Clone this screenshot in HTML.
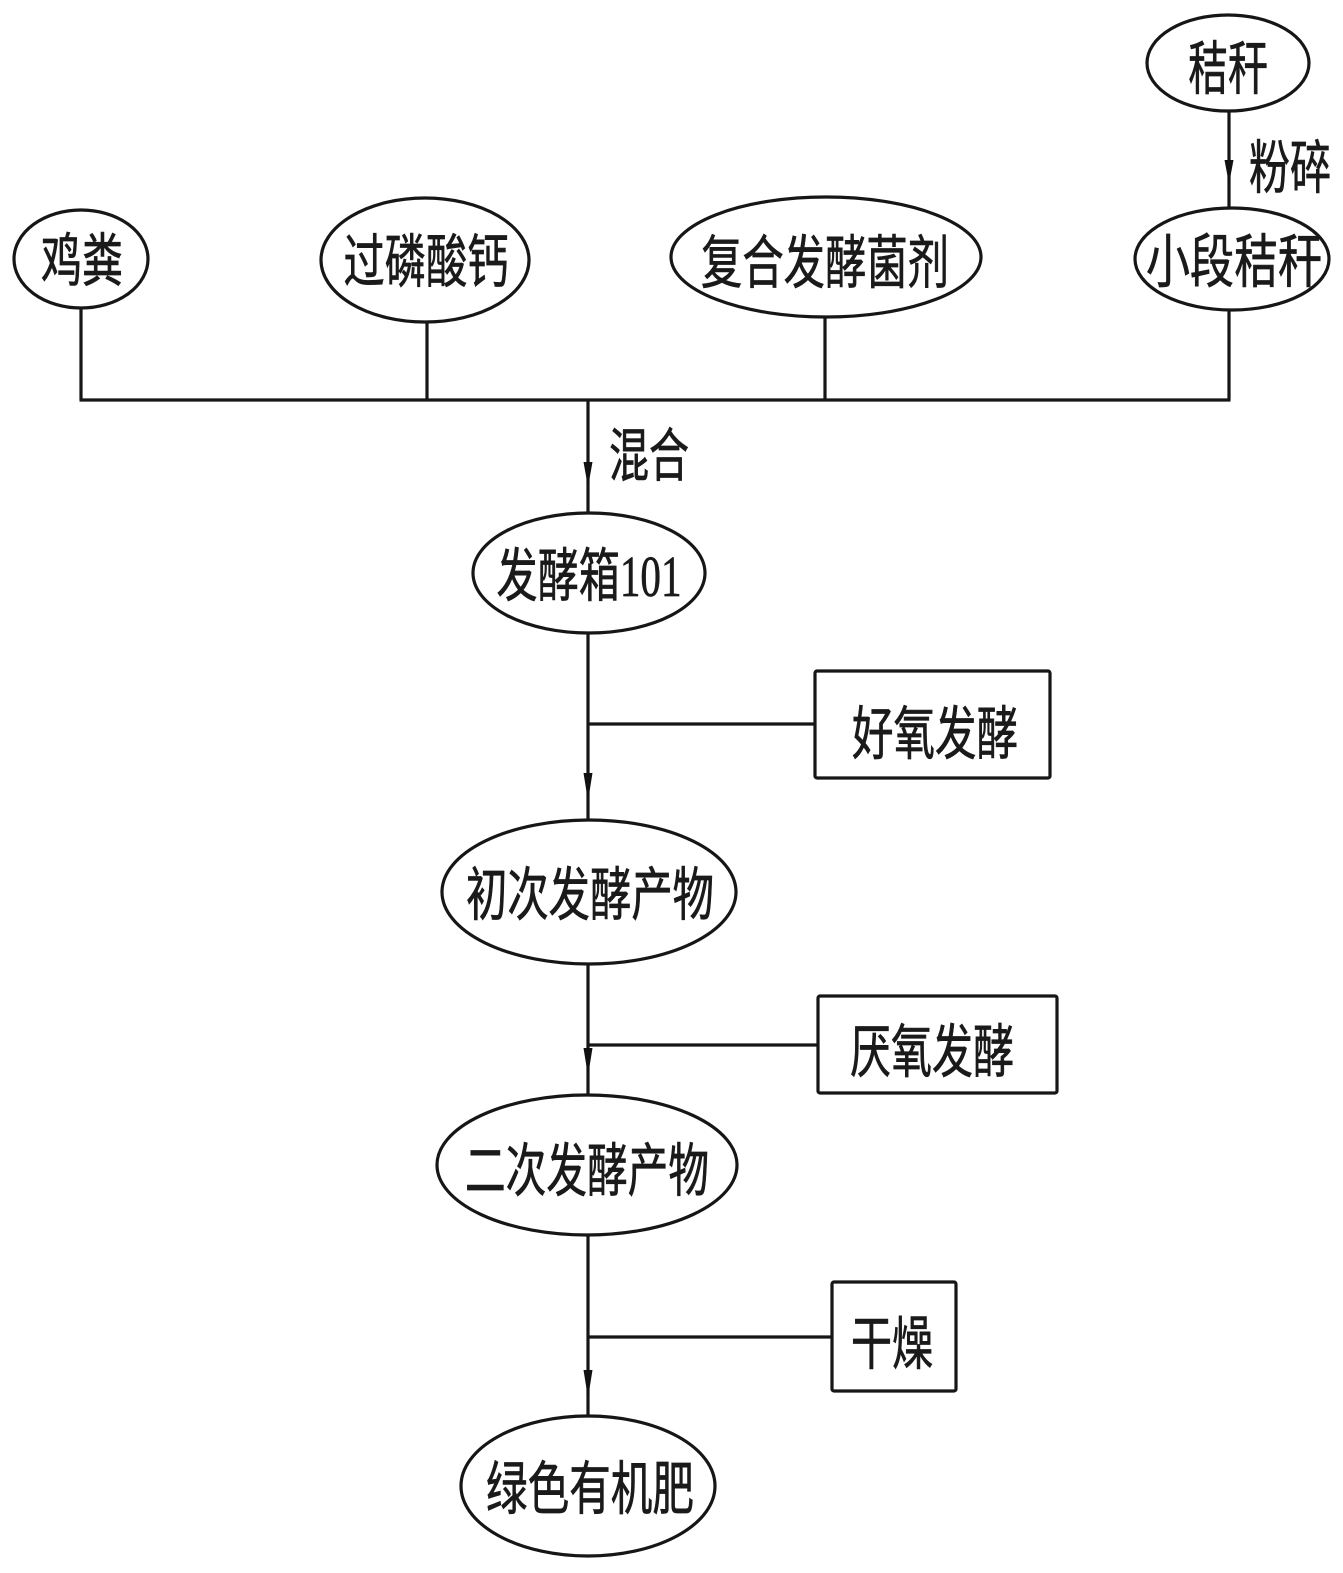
<!DOCTYPE html>
<html>
<head>
<meta charset="utf-8">
<style>
  html, body { margin: 0; padding: 0; background: #ffffff; }
  svg { display: block; }
  text {
    font-family: "Liberation Sans", "Noto Sans CJK SC", "WenQuanYi Zen Hei", sans-serif;
    font-size: 58px;
    fill: #1a1a1a;
    stroke: #1a1a1a;
    stroke-width: 0.7px;
  }
</style>
</head>
<body>
<svg width="1343" height="1573" viewBox="0 0 1343 1573" xmlns="http://www.w3.org/2000/svg">
  <g fill="none" stroke="#161616" stroke-width="3.2">
    <!-- Ellipses -->
    <ellipse cx="1228" cy="63" rx="81" ry="48"/>
    <ellipse cx="1232" cy="259" rx="97" ry="51"/>
    <ellipse cx="81" cy="259" rx="67" ry="49"/>
    <ellipse cx="425" cy="260" rx="104" ry="62"/>
    <ellipse cx="826" cy="257" rx="155" ry="60"/>
    <ellipse cx="589" cy="573" rx="116" ry="60"/>
    <ellipse cx="589" cy="892" rx="147" ry="72"/>
    <ellipse cx="587" cy="1165" rx="150" ry="70"/>
    <ellipse cx="588" cy="1486" rx="127" ry="70"/>

    <!-- Boxes -->
    <rect x="815" y="671" width="235" height="107" rx="2"/>
    <rect x="818" y="996" width="239" height="97" rx="2"/>
    <rect x="832" y="1282" width="124" height="109" rx="2"/>

    <!-- Connectors -->
    <line x1="1229" y1="111" x2="1229" y2="208"/>
    <line x1="81" y1="308" x2="81" y2="400"/>
    <line x1="427" y1="322" x2="427" y2="400"/>
    <line x1="825" y1="317" x2="825" y2="400"/>
    <line x1="1229" y1="310" x2="1229" y2="400"/>
    <line x1="79.5" y1="400" x2="1230.5" y2="400"/>

    <line x1="588" y1="400" x2="588" y2="513"/>
    <line x1="588" y1="633" x2="588" y2="820"/>
    <line x1="588" y1="724" x2="815" y2="724"/>

    <line x1="588" y1="964" x2="588" y2="1095"/>
    <line x1="588" y1="1045" x2="818" y2="1045"/>

    <line x1="588" y1="1235" x2="588" y2="1416"/>
    <line x1="588" y1="1337" x2="832" y2="1337"/>
  </g>

  <!-- Arrowheads -->
  <g fill="#111" stroke="none">
    <polygon points="1224.5,160 1233.5,160 1229,184"/>
    <polygon points="583.5,462 592.5,462 588,487"/>
    <polygon points="583.5,773 592.5,773 588,801"/>
    <polygon points="583.5,1048 592.5,1048 588,1076"/>
    <polygon points="583.5,1370 592.5,1370 588,1398"/>
  </g>

  <!-- Labels -->
  <text x="1228" y="89" text-anchor="middle" textLength="80" lengthAdjust="spacingAndGlyphs">秸秆</text>
  <text x="1290" y="188" text-anchor="middle" textLength="82" lengthAdjust="spacingAndGlyphs">粉碎</text>
  <text x="82" y="281" text-anchor="middle" textLength="82" lengthAdjust="spacingAndGlyphs">鸡粪</text>
  <text x="426" y="282" text-anchor="middle" textLength="165" lengthAdjust="spacingAndGlyphs">过磷酸钙</text>
  <text x="825" y="283" text-anchor="middle" textLength="248" lengthAdjust="spacingAndGlyphs">复合发酵菌剂</text>
  <text x="1234" y="282" text-anchor="middle" textLength="176" lengthAdjust="spacingAndGlyphs">小段秸秆</text>
  <text x="649" y="476" text-anchor="middle" textLength="80" lengthAdjust="spacingAndGlyphs">混合</text>
  <text x="589" y="596" text-anchor="middle" textLength="185" lengthAdjust="spacingAndGlyphs">发酵箱<tspan font-family="Liberation Serif, serif">101</tspan></text>
  <text x="935" y="754" text-anchor="middle" textLength="166" lengthAdjust="spacingAndGlyphs">好氧发酵</text>
  <text x="590" y="915" text-anchor="middle" textLength="248" lengthAdjust="spacingAndGlyphs">初次发酵产物</text>
  <text x="932" y="1072" text-anchor="middle" textLength="164" lengthAdjust="spacingAndGlyphs">厌氧发酵</text>
  <text x="587" y="1191" text-anchor="middle" textLength="244" lengthAdjust="spacingAndGlyphs">二次发酵产物</text>
  <text x="892" y="1364" text-anchor="middle" textLength="82" lengthAdjust="spacingAndGlyphs">干燥</text>
  <text x="590" y="1509" text-anchor="middle" textLength="208" lengthAdjust="spacingAndGlyphs">绿色有机肥</text>
</svg>
</body>
</html>
